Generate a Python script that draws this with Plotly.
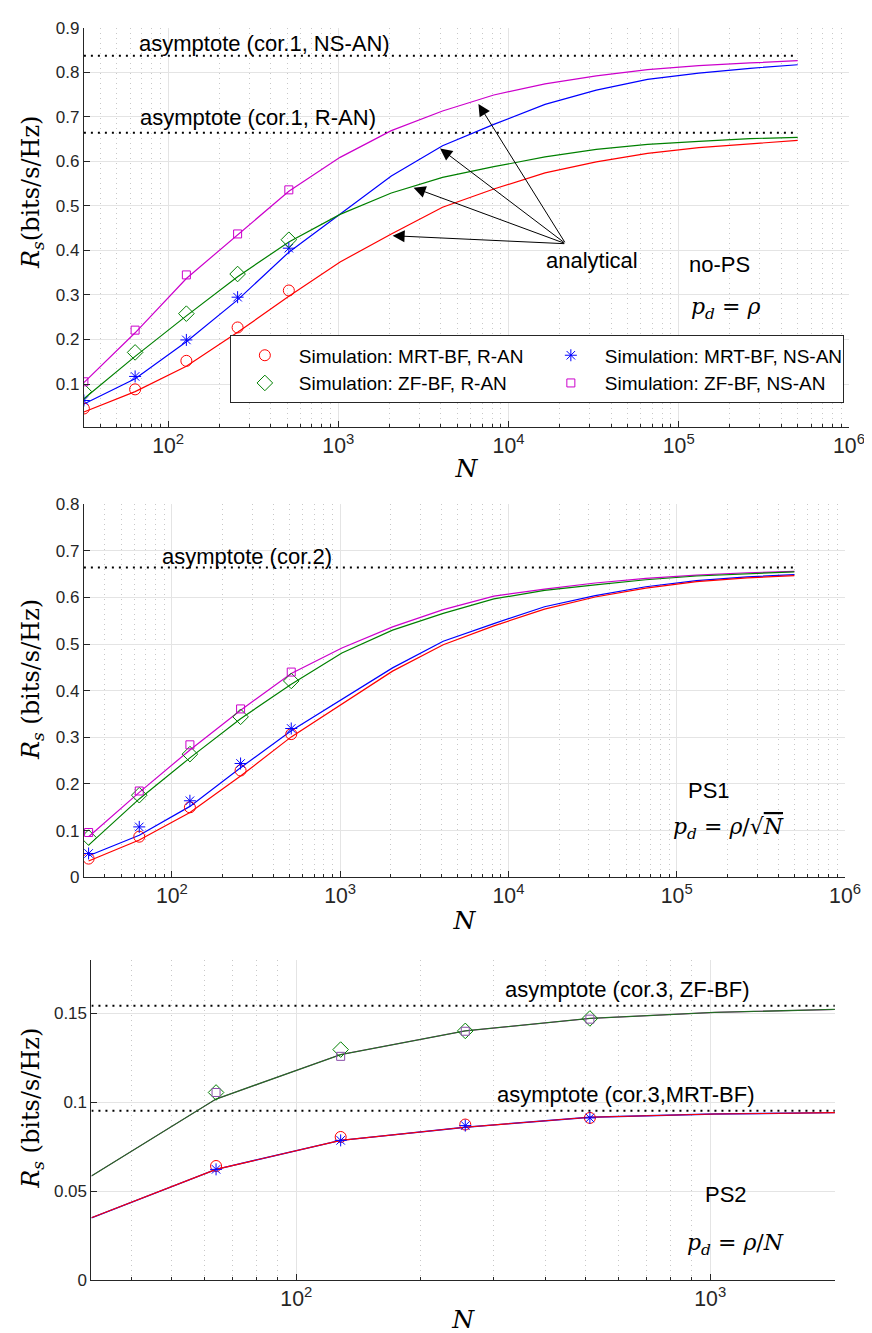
import numpy as np
import plotly.graph_objects as go

W, H = 872, 1333

# ---------------- data ----------------
N_line = [32, 64, 128, 256, 512, 1024, 2048, 4096, 8192, 16384, 32768, 65536, 131072, 262144, 500000]
N_sim = [32, 64, 128, 256, 512]

# Panel 1 : no-PS, p_d = rho
p1_mrt_ran_line = [0.037, 0.083, 0.140, 0.216, 0.297, 0.374, 0.437, 0.497, 0.538, 0.574, 0.599, 0.618, 0.631, 0.640, 0.647]
p1_zf_ran_line = [0.067, 0.162, 0.253, 0.341, 0.419, 0.481, 0.529, 0.564, 0.588, 0.610, 0.627, 0.638, 0.645, 0.651, 0.654]
p1_mrt_nsan_line = [0.055, 0.112, 0.195, 0.289, 0.396, 0.481, 0.567, 0.635, 0.683, 0.728, 0.760, 0.784, 0.798, 0.809, 0.817]
p1_zf_nsan_line = [0.103, 0.215, 0.337, 0.435, 0.533, 0.609, 0.669, 0.713, 0.749, 0.774, 0.792, 0.806, 0.815, 0.821, 0.826]
p1_mrt_ran_sim = [0.045, 0.088, 0.152, 0.227, 0.310]
p1_mrt_nsan_sim = [0.063, 0.117, 0.199, 0.295, 0.405]
p1_zf_ran_sim = [0.083, 0.171, 0.258, 0.347, 0.424]
p1_zf_nsan_sim = [0.105, 0.221, 0.345, 0.437, 0.536]
p1_asym_ran = 0.664
p1_asym_nsan = 0.837

# Panel 2 : PS1, p_d = rho/sqrt(N)
p2_mrt_ran_line = [0.035, 0.080, 0.139, 0.217, 0.301, 0.372, 0.442, 0.4985, 0.539, 0.575, 0.601, 0.620, 0.634, 0.642, 0.647]
p2_mrt_nsan_line = [0.046, 0.090, 0.152, 0.235, 0.314, 0.382, 0.449, 0.506, 0.544, 0.580, 0.604, 0.623, 0.636, 0.644, 0.649]
p2_zf_ran_line = [0.069, 0.168, 0.256, 0.340, 0.414, 0.481, 0.530, 0.566, 0.597, 0.615, 0.627, 0.638, 0.646, 0.651, 0.655]
p2_zf_nsan_line = [0.087, 0.182, 0.273, 0.358, 0.437, 0.4915, 0.537, 0.574, 0.603, 0.618, 0.631, 0.641, 0.648, 0.653, 0.656]
p2_mrt_ran_sim = [0.040, 0.087, 0.150, 0.229, 0.307]
p2_mrt_nsan_sim = [0.051, 0.108, 0.164, 0.244, 0.319]
p2_zf_ran_sim = [0.085, 0.176, 0.264, 0.344, 0.421]
p2_zf_nsan_sim = [0.096, 0.185, 0.284, 0.361, 0.440]
p2_asym = 0.664

# Panel 3 : PS2, p_d = rho/N
N_line3 = [32, 64, 128, 256, 512, 1024, 2048]
N_sim3 = [64, 128, 256, 512]
p3_zf_line = [0.0587, 0.1019, 0.1269, 0.1402, 0.1472, 0.1506, 0.1523]
p3_mrt_line = [0.0352, 0.0624, 0.0787, 0.0861, 0.0917, 0.0935, 0.0943]
p3_mrt_ran_sim = [0.0643, 0.0806, 0.0876, 0.0913]
p3_mrt_nsan_sim = [0.0624, 0.0787, 0.0870, 0.0913]
p3_zf_ran_sim = [0.1056, 0.1297, 0.1402, 0.1472]
p3_zf_nsan_sim = [0.1056, 0.1259, 0.1400, 0.1468]
p3_asym_zf = 0.1543
p3_asym_mrt = 0.0954

RED, GREEN, BLUE, MAG = "#ff0000", "#008000", "#0000ff", "#cc00cc"
AXC = "#262626"
SANS = "Liberation Sans, Arial, sans-serif"
SERIF = "DejaVu Serif, serif"

fig = go.Figure()


def line(x, y, color, ax, width=1.2):
    fig.add_trace(go.Scatter(x=x, y=y, mode="lines", line=dict(color=color, width=width),
                             xaxis=ax[0], yaxis=ax[1], showlegend=False, hoverinfo="skip"))


def sim(x, y, color, symbol, size, ax, name, show):
    fig.add_trace(go.Scatter(x=x, y=y, mode="markers", name=name,
                             marker=dict(symbol=symbol, size=size, color=color,
                                         line=dict(color=color, width=1)),
                             xaxis=ax[0], yaxis=ax[1], showlegend=show))


def asym(x, yv, ax):
    fig.add_trace(go.Scatter(x=x, y=[yv, yv], mode="lines",
                             line=dict(color="black", width=2, dash="2px,5px"),
                             xaxis=ax[0], yaxis=ax[1], showlegend=False, hoverinfo="skip"))


A1, A2, A3 = ("x", "y"), ("x2", "y2"), ("x3", "y3")

# panel 1
asym([32, 500000], p1_asym_nsan, A1)
asym([32, 500000], p1_asym_ran, A1)
line(N_line, p1_zf_nsan_line, MAG, A1)
line(N_line, p1_mrt_nsan_line, BLUE, A1)
line(N_line, p1_zf_ran_line, GREEN, A1)
line(N_line, p1_mrt_ran_line, RED, A1)
sim(N_sim, p1_mrt_ran_sim, RED, "circle-open", 11, A1, "Simulation: MRT-BF, R-AN", True)
sim(N_sim, p1_mrt_nsan_sim, BLUE, "asterisk-open", 10, A1, "Simulation: MRT-BF, NS-AN", True)
sim(N_sim, p1_zf_ran_sim, GREEN, "diamond-open", 12, A1, "Simulation: ZF-BF, R-AN", True)
sim(N_sim, p1_zf_nsan_sim, MAG, "square-open", 8, A1, "Simulation: ZF-BF, NS-AN", True)

# panel 2
asym([30, 500000], p2_asym, A2)
line(N_line, p2_zf_nsan_line, MAG, A2)
line(N_line, p2_zf_ran_line, GREEN, A2)
line(N_line, p2_mrt_nsan_line, BLUE, A2)
line(N_line, p2_mrt_ran_line, RED, A2)
sim(N_sim, p2_mrt_ran_sim, RED, "circle-open", 11, A2, "MRT R-AN", False)
sim(N_sim, p2_mrt_nsan_sim, BLUE, "asterisk-open", 10, A2, "MRT NS-AN", False)
sim(N_sim, p2_zf_ran_sim, GREEN, "diamond-open", 12, A2, "ZF R-AN", False)
sim(N_sim, p2_zf_nsan_sim, MAG, "square-open", 8, A2, "ZF NS-AN", False)

# panel 3
asym([32, 2000], p3_asym_zf, A3)
asym([32, 2000], p3_asym_mrt, A3)
line(N_line3, p3_zf_line, MAG, A3, width=1.0)
line(N_line3, p3_zf_line, "#246b24", A3, width=1.3)
line(N_line3, p3_mrt_line, BLUE, A3, width=1.4)
line(N_line3, p3_mrt_line, RED, A3, width=1.1)
sim(N_sim3, p3_mrt_ran_sim, RED, "circle-open", 11, A3, "MRT R-AN", False)
sim(N_sim3, p3_zf_ran_sim, GREEN, "diamond-open", 12, A3, "ZF R-AN", False)
sim(N_sim3, p3_zf_nsan_sim, "#8a4fa8", "square-open", 8, A3, "ZF NS-AN", False)
sim(N_sim3, p3_mrt_nsan_sim, BLUE, "asterisk-open", 10, A3, "MRT NS-AN", False)


def xd(a, b):
    return [a / W, b / W]


def yd(top, bot):
    return [1 - bot / H, 1 - top / H]


grid_major = "#e4e4e4"
grid_minor = "#c8c8c8"


def xaxis_cfg(domain, rng, anchor, standoff):
    return dict(domain=domain, type="log", range=rng, anchor=anchor,
                dtick=1, exponentformat="power", showexponent="all",
                showline=True, linecolor=AXC, linewidth=1, ticks="inside", ticklen=6,
                tickcolor=AXC, tickfont=dict(family=SANS, size=17, color=AXC),
                showgrid=True, gridcolor=grid_major, gridwidth=1, zeroline=False,
                minor=dict(dtick="D1", ticks="inside", ticklen=3, tickcolor=AXC,
                           showgrid=True, gridcolor=grid_minor, griddash="1px,4px", gridwidth=1),
                title=dict(text="<i>N</i>", font=dict(family=SERIF, size=25, color="black"),
                           standoff=standoff))


def yaxis_cfg(domain, rng, anchor, dtick):
    return dict(domain=domain, range=rng, anchor=anchor, dtick=dtick, tick0=0,
                showline=True, linecolor=AXC, linewidth=1, ticks="inside", ticklen=6,
                tickcolor=AXC, tickfont=dict(family=SANS, size=17, color=AXC),
                showgrid=True, gridcolor=grid_major, gridwidth=1, zeroline=False)


fig.update_layout(
    width=W, height=H, margin=dict(l=0, r=0, t=0, b=0),
    paper_bgcolor="white", plot_bgcolor="white",
    xaxis=xaxis_cfg(xd(77.3, 856.7), [np.log10(32), 6.0001], "y", 2),
    yaxis=yaxis_cfg(yd(10.7, 416), [0.0033, 0.9005], "x", 0.1),
    xaxis2=xaxis_cfg(xd(77.3, 852.7), [np.log10(30), 6.0001], "y2", 4),
    yaxis2=yaxis_cfg(yd(494, 872.7), [0, 0.8005], "x2", 0.1),
    xaxis3=xaxis_cfg(xd(85, 842.3), [np.log10(32), np.log10(2000)], "y3", 0),
    yaxis3=yaxis_cfg(yd(956.7, 1281.7), [0, 0.18], "x3", 0.05),
    legend=dict(x=226 / W, y=1 - 323 / H, xanchor="left", yanchor="top",
                orientation="h", entrywidth=233, entrywidthmode="pixels",
                bgcolor="white", bordercolor=AXC, borderwidth=1,
                font=dict(family=SANS, size=19, color="black"), itemwidth=58),
    showlegend=True,
)

ann = []


def txt(text, x, y, size=22, family=SANS):
    ann.append(dict(text=text, x=x / W, y=1 - y / H, xref="paper", yref="paper",
                    showarrow=False, xanchor="center", yanchor="middle",
                    font=dict(family=family, size=size, color="black")))


txt("asymptote (cor.1, NS-AN)", 261, 27)
txt("asymptote (cor.1, R-AN)", 255, 102)
txt("analytical", 594.5, 247)
txt("no-PS", 725, 251)
txt("<i>p</i><sub><i>d</i></sub> = <i>ρ</i>", 731, 296, size=22, family=SERIF)
txt("asymptote (cor.2)", 243, 547)
txt("PS1", 714.5, 785)
txt("<i>p</i><sub><i>d</i></sub> = <i>ρ</i>/√<span style='text-decoration:overline'><i>N</i></span>",
    734, 823, size=22, family=SERIF)
txt("asymptote (cor.3, ZF-BF)", 631, 987)
txt("asymptote (cor.3,MRT-BF)", 629.5, 1093)
txt("PS2", 731, 1195)
txt("<i>p</i><sub><i>d</i></sub> = <i>ρ</i>/<i>N</i>", 741, 1245, size=22, family=SERIF)

# y-axis labels
for yc, t in [(178, "<i>R</i><sub><i>s</i></sub>(bits/s/Hz)"),
              (672, "<i>R</i><sub><i>s</i></sub> (bits/s/Hz)"),
              (1107, "<i>R</i><sub><i>s</i></sub> (bits/s/Hz)")]:
    ann.append(dict(text=t, x=25 / W, y=1 - yc / H, xref="paper", yref="paper",
                    showarrow=False, textangle=-90, xanchor="center", yanchor="middle",
                    font=dict(family=SERIF, size=24, color="black")))

# arrows (head at curve, tail at label) in data coordinates of panel 1
tail = (4.336, 0.415)
for hx, hy in [(3.319, 0.433), (3.442, 0.541), (3.598, 0.629), (3.823, 0.729)]:
    ann.append(dict(x=hx, y=hy, xref="x", yref="y", ax=tail[0], ay=tail[1],
                    axref="x", ayref="y", showarrow=True, arrowhead=2, arrowsize=2.4,
                    arrowwidth=1, arrowcolor="black", text=""))

fig.update_layout(annotations=ann)
fig.write_html("out.html")
